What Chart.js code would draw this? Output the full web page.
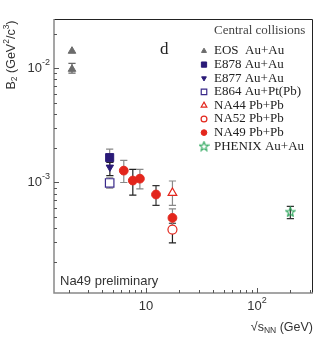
<!DOCTYPE html>
<html><head><meta charset="utf-8">
<script src="https://cdn.jsdelivr.net/npm/chart.js@4"></script>
<style>html,body{margin:0;padding:0;background:#fff}</style>
</head><body>
<canvas id="c" width="327" height="344" style="width:327px;height:344px;display:block"></canvas>
<script>
// ---- data ----
const eosX=[2.15,2.15], eosY=[0.0141,0.0098], eosLo=[null,0.00904], eosHi=[null,0.0110];
const e878X=[4.7], e878Y=[1.65e-3], e878Lo=[1.40e-3], e878Hi=[1.96e-3];
const e877X=[4.72], e877Y=[1.36e-3], e877Lo=[1.15e-3], e877Hi=[1.50e-3];
const e864X=[4.7], e864Y=[9.9e-4], e864Lo=[8.9e-4], e864Hi=[1.10e-3];
const na44X=[17.3], na44Y=[8.1e-4], na44Lo=[6.3e-4], na44Hi=[1.03e-3];
const na52X=[17.3], na52Y=[3.87e-4], na52Lo=[2.96e-4], na52Hi=[4.4e-4];
const na49X=[6.3,7.6,8.8,12.3,17.3], na49Y=[1.27e-3,1.04e-3,1.08e-3,7.85e-4,4.9e-4];
const na49Lo=[1.0e-3,7.74e-4,8.8e-4,6.3e-4,4.0e-4], na49Hi=[1.56e-3,1.30e-3,1.30e-3,9.4e-4,5.88e-4];
const phxX=[200], phxY=[5.53e-4], phxLo=[4.83e-4], phxHi=[6.19e-4];
const LEGEND_LABELS=['EOS  Au+Au','E878 Au+Au','E877 Au+Au','E864 Au+Pt(Pb)','NA44 Pb+Pb','NA52 Pb+Pb','NA49 Pb+Pb','PHENIX Au+Au'];
const LEGEND_TITLE='Central collisions';
const X_MINOR=[2,3,4,5,6,7,8,9,20,30,40,50,60,70,80,90,200,300];
const X_MAJOR=[10,100];
const X_LABELS=[['10',''],['10','2']];
const Y_MINOR=[2e-4,3e-4,4e-4,5e-4,6e-4,7e-4,8e-4,9e-4,2e-3,3e-3,4e-3,5e-3,6e-3,7e-3,8e-3,9e-3,2e-2];
const Y_MAJOR=[1e-3,1e-2];
const Y_LABELS=[['10','-3'],['10','-2']];

// ---- styles ----
const GRAY='#6b6b6b', NAVY='#2a1a78', RED='#e3261c', GREEN='#2aa55a';
function starCanvas(){
  const c=document.createElement('canvas'); c.width=11; c.height=11;
  const g=c.getContext('2d'); g.strokeStyle=GREEN; g.lineWidth=1.1; g.beginPath();
  for(let i=0;i<10;i++){const r=i%2?2.1:4.8; const a=-Math.PI/2+i*Math.PI/5;
    const px=5.5+r*Math.cos(a), py=5.8+r*Math.sin(a); i?g.lineTo(px,py):g.moveTo(px,py);}
  g.closePath(); g.stroke(); return c;
}
const STAR=starCanvas();
function ds(label,xs,ys,lo,hi,errCol,style,color,fill,r,rot){
  return {label,data:xs.map((x,i)=>({x,y:ys[i]})),lo,hi,errCol,
    pointStyle:style,pointRadius:r,pointHoverRadius:r,rotation:rot||0,
    borderColor:color,backgroundColor:fill?color:'rgba(255,255,255,1)',borderWidth:fill?1:1.2,showLine:false};
}
const datasets=[
  ds(LEGEND_LABELS[0],eosX,eosY,eosLo,eosHi,['#666','#666'],'triangle',GRAY,true,4.4),
  ds(LEGEND_LABELS[1],e878X,e878Y,e878Lo,e878Hi,['#888'],'rect',NAVY,true,5.7),
  ds(LEGEND_LABELS[2],e877X,e877Y,e877Lo,e877Hi,['#222'],'triangle',NAVY,true,4.2,180),
  ds(LEGEND_LABELS[3],e864X,e864Y,e864Lo,e864Hi,['#888'],'rect','#3a2a8a',false,6),
  ds(LEGEND_LABELS[4],na44X,na44Y,na44Lo,na44Hi,['#888'],'triangle',RED,false,5),
  ds(LEGEND_LABELS[5],na52X,na52Y,na52Lo,na52Hi,['#222'],'circle',RED,false,4.5),
  ds(LEGEND_LABELS[6],na49X,na49Y,na49Lo,na49Hi,['#888','#222','#888','#333','#888'],'circle',RED,true,4.4),
  ds(LEGEND_LABELS[7],phxX,phxY,phxLo,phxHi,['#333'],STAR,GREEN,false,5)
];

function rich(ctx,parts,x,y,align){
  let w=0; parts.forEach(p=>{ctx.font=p.f; p.w=ctx.measureText(p.t).width; w+=p.w;});
  let cx = align==='right'? x-w : align==='center'? x-w/2 : x;
  parts.forEach(p=>{ctx.font=p.f; ctx.fillText(p.t,cx,y+(p.dy||0)); cx+=p.w;});
}

const errPlugin={id:'err',beforeDatasetsDraw(chart){
  const {ctx,scales:{x,y}}=chart; ctx.save(); ctx.lineWidth=1.2;
  chart.data.datasets.forEach(d=>{d.data.forEach((p,i)=>{
    if(d.lo[i]==null) return;
    const px=x.getPixelForValue(p.x), yl=y.getPixelForValue(d.lo[i]), yh=y.getPixelForValue(d.hi[i]);
    ctx.strokeStyle=d.errCol[i]; ctx.beginPath();
    ctx.moveTo(px,yl);ctx.lineTo(px,yh);
    ctx.moveTo(px-3.6,yl);ctx.lineTo(px+3.6,yl);
    ctx.moveTo(px-3.6,yh);ctx.lineTo(px+3.6,yh);ctx.stroke();
  });});
  ctx.restore();
}};

const decoPlugin={id:'deco',afterDraw(chart){
  const {ctx,chartArea:a,scales:{x,y}}=chart; ctx.save();
  // frame
  ctx.lineWidth=1; ctx.strokeStyle='#222';
  ctx.beginPath(); ctx.moveTo(a.left,a.top+0.5); ctx.lineTo(a.right-0.5,a.top+0.5); ctx.lineTo(a.right-0.5,a.bottom); ctx.stroke();
  ctx.strokeStyle='#888'; ctx.lineWidth=1.5;
  ctx.beginPath(); ctx.moveTo(a.left,a.top); ctx.lineTo(a.left,a.bottom); ctx.lineTo(a.right,a.bottom); ctx.stroke();
  // ticks
  ctx.strokeStyle='#555'; ctx.lineWidth=1;
  ctx.beginPath();
  X_MINOR.forEach(v=>{const px=Math.round(x.getPixelForValue(v))+0.5; ctx.moveTo(px,a.bottom); ctx.lineTo(px,a.bottom-3);});
  X_MAJOR.forEach(v=>{const px=Math.round(x.getPixelForValue(v))+0.5; ctx.moveTo(px,a.bottom); ctx.lineTo(px,a.bottom-5);});
  Y_MINOR.forEach(v=>{const py=Math.round(y.getPixelForValue(v))+0.5; ctx.moveTo(a.left,py); ctx.lineTo(a.left+3,py);});
  Y_MAJOR.forEach(v=>{const py=Math.round(y.getPixelForValue(v))+0.5; ctx.moveTo(a.left,py); ctx.lineTo(a.left+5,py);});
  ctx.stroke();
  // tick labels
  ctx.fillStyle='#333'; ctx.textBaseline='middle';
  const F='13px "Liberation Sans", Arial, sans-serif', FS='9px "Liberation Sans", Arial, sans-serif';
  X_MAJOR.forEach((v,i)=>{const L=X_LABELS[i]; const parts=[{t:L[0],f:F}]; if(L[1]) parts.push({t:L[1],f:FS,dy:-5});
    rich(ctx,parts,x.getPixelForValue(v),a.bottom+13,'center');});
  Y_MAJOR.forEach((v,i)=>{const L=Y_LABELS[i];
    rich(ctx,[{t:L[0],f:F},{t:L[1],f:FS,dy:-6}],a.left-4,y.getPixelForValue(v),'right');});
  // axis titles
  const T='12.5px "Liberation Sans", Arial, sans-serif', TS='8.5px "Liberation Sans", Arial, sans-serif';
  rich(ctx,[{t:'\u221As',f:T},{t:'NN',f:TS,dy:3},{t:' (GeV)',f:T}],a.right,328,'right');
  ctx.save(); ctx.translate(12,55); ctx.rotate(-Math.PI/2);
  rich(ctx,[{t:'B',f:T},{t:'2',f:TS,dy:3},{t:' (GeV',f:T},{t:'2',f:TS,dy:-5},{t:'/c',f:T},{t:'3',f:TS,dy:-5},{t:')',f:T}],0,0,'center');
  ctx.restore();
  // annotations
  ctx.font='17px "Liberation Serif", "Times New Roman", serif'; ctx.fillStyle='#222'; ctx.textAlign='left';
  ctx.fillText('d',160,50);
  ctx.font='13px "Liberation Sans", Arial, sans-serif'; ctx.fillStyle='#333';
  ctx.fillText('Na49 preliminary',60,281);
  // legend
  const LF='13px "Liberation Serif", "Times New Roman", serif';
  ctx.font=LF; ctx.fillStyle='#444';
  ctx.fillText(LEGEND_TITLE,214,31);
  const H=Chart.helpers;
  chart.data.datasets.forEach((d,i)=>{
    const ly=51+i*13.6;
    ctx.fillStyle='#222'; ctx.font=LF;
    ctx.fillText(d.label,214,ly);
    ctx.save(); ctx.fillStyle=d.backgroundColor; ctx.strokeStyle=d.borderColor; ctx.lineWidth=d.borderWidth;
    H.drawPoint(ctx,{pointStyle:d.pointStyle,rotation:d.rotation,radius:d.pointRadius*0.65,borderWidth:d.borderWidth},204,ly);
    ctx.restore();
  });
  ctx.restore();
}};

new Chart(document.getElementById('c'),{
  type:'scatter',
  data:{datasets},
  options:{responsive:false,animation:false,devicePixelRatio:1,
    layout:{padding:{top:19,right:14,left:0,bottom:0}},
    plugins:{legend:{display:false},tooltip:{enabled:false}},
    scales:{
      x:{type:'logarithmic',min:1.48,max:320,grid:{display:false},border:{display:false},ticks:{display:false},
        afterFit:s=>{s.height=51;}},
      y:{type:'logarithmic',min:1.08e-4,max:0.0269,grid:{display:false},border:{display:false},ticks:{display:false},
        afterFit:s=>{s.width=54;}}
    }},
  plugins:[errPlugin,decoPlugin]
});
</script></body></html>
